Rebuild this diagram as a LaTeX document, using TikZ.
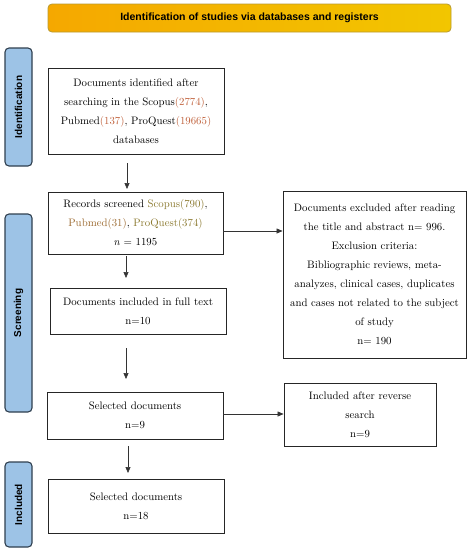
\documentclass[tikz,border=0pt]{standalone}
\usepackage{fontspec}
\newfontfamily\arialfont{Liberation Sans}
\usetikzlibrary{arrows.meta}
\definecolor{numc}{HTML}{C0603A}
\definecolor{olivec}{HTML}{8C7A30}
\definecolor{brownc}{HTML}{9C6A30}
\definecolor{sideblue}{HTML}{9DC3E6}
\definecolor{sideborder}{HTML}{2F3F4F}
\definecolor{titleA}{HTML}{F5A800}
\definecolor{titleB}{HTML}{F2C600}
\definecolor{titleborder}{HTML}{B89A30}
\tikzset{
  box/.style={draw=black!85, line width=0.9pt, fill=white, align=center,
    font=\fontsize{10.8}{19}\selectfont, inner sep=0pt},
  sidebox/.style={draw=sideborder, line width=1.1pt, fill=sideblue, rounded corners=4pt,
    minimum width=27pt, inner sep=0pt},
  sidelabel/.style={rotate=90, font=\arialfont\bfseries\fontsize{10}{12}\selectfont},
  arr/.style={-{Triangle[length=6pt,width=5pt]}, line width=0.6pt, draw=black!80},
}
\begin{document}
\begin{tikzpicture}[x=1pt,y=-1pt]
\useasboundingbox (0,0) rectangle (469,550);
% title
\node[draw=titleborder, line width=0.8pt, rounded corners=4pt, left color=titleA, right color=titleB,
  minimum width=403pt, minimum height=28pt, inner sep=0pt,
  font=\arialfont\bfseries\fontsize{10.5}{12}\selectfont] (title) at (249.5,18)
  {Identification of studies via databases and registers};
% side labels
\node[sidebox, minimum height=118pt] (sid) at (18.5,107) {};
\node[sidelabel] (sidt) at (sid.center) {Identification};
\node[sidebox, minimum height=198pt] (sscr) at (18.5,313) {};
\node[sidelabel] (sscrt) at (sscr.center) {Screening};
\node[sidebox, minimum height=85pt] (sinc) at (18.5,504.5) {};
\node[sidelabel] (sinct) at (sinc.center) {Included};
% main boxes
\node[box, minimum width=176pt, minimum height=86pt] (b1) at (136,111)
  {Documents identified after\\ searching in the Scopus\textcolor{numc}{(2774)},\\
   Pubmed\textcolor{numc}{(137)}, ProQuest\textcolor{numc}{(19665)}\\ databases};
\node[box, minimum width=175pt, minimum height=62pt] (b2) at (135.5,223)
  {Records screened \textcolor{olivec}{Scopus(790)},\\
   \textcolor{brownc}{Pubmed(31)}, \textcolor{olivec}{ProQuest(374)}\\ \textit{n} = 1195};
\node[box, minimum width=176pt, minimum height=46pt] (b3) at (138,311)
  {Documents included in full text\\ n=10};
\node[box, minimum width=176pt, minimum height=47pt] (b4) at (135,415.5)
  {Selected documents\\ n=9};
\node[box, minimum width=176pt, minimum height=54pt] (b5) at (136,506)
  {Selected documents\\ n=18};
\node[box, minimum width=183pt, minimum height=167pt] (r1) at (374.5,274.5)
  {Documents excluded after reading\\ the title and abstract n= 996.\\ Exclusion criteria:\\
   Bibliographic reviews, meta-\\ analyzes, clinical cases, duplicates\\
   and cases not related to the subject\\ of study\\ n= 190};
\node[box, minimum width=152pt, minimum height=63pt] (r2) at (360,414.5)
  {Included after reverse\\ search\\ n=9};
% arrows
\coordinate (a1s) at (127,163); \coordinate (a1e) at (127,189);
\draw[arr] (a1s) -- (a1e);
\coordinate (a2s) at (126,256); \coordinate (a2e) at (126,278);
\draw[arr] (a2s) -- (a2e);
\coordinate (a3s) at (126,348); \coordinate (a3e) at (126,379);
\draw[arr] (a3s) -- (a3e);
\coordinate (a4s) at (128,446); \coordinate (a4e) at (128,473);
\draw[arr] (a4s) -- (a4e);
\draw[arr] (b2.east |- 0,231) -- (r1.west |- 0,231);
\draw[arr] (b4.east |- 0,414) -- (r2.west |- 0,414);
\end{tikzpicture}
\end{document}
